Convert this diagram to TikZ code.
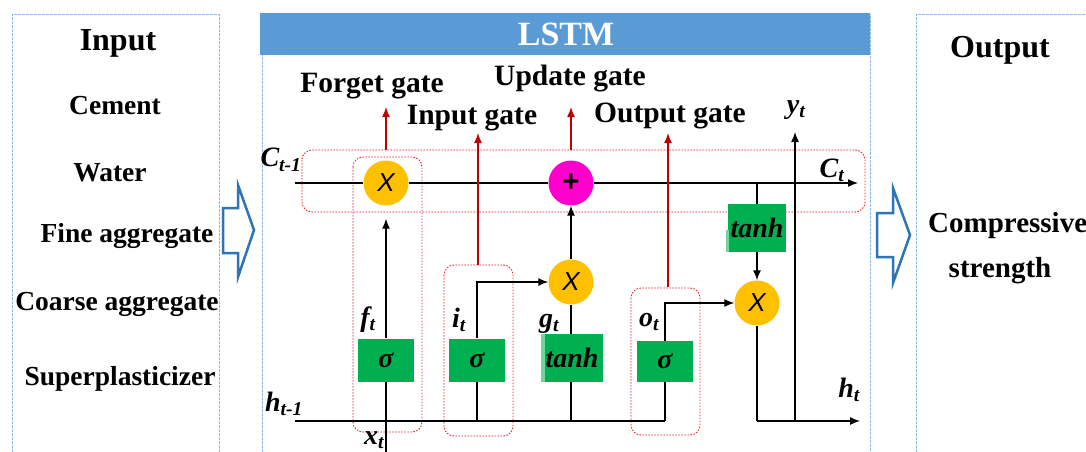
\documentclass[tikz,border=0pt]{standalone}
\usepackage{fontspec}
\setmainfont{Liberation Serif}
\newfontfamily\xsans{Liberation Sans}
\usetikzlibrary{arrows.meta}
\definecolor{hdrblue}{HTML}{5B9BD5}
\definecolor{brdblue}{HTML}{8DB8E6}
\definecolor{arrblue}{HTML}{2E75B6}
\definecolor{gatered}{HTML}{C00000}
\definecolor{dotred}{HTML}{E8202A}
\definecolor{boxgreen}{HTML}{00B050}
\definecolor{circorange}{HTML}{FFC000}
\definecolor{circpink}{HTML}{FF00CC}
\tikzset{
  blueframe/.style={draw=brdblue, line width=0.9pt, dash pattern=on 3pt off 1pt},
  bigtitle/.style={font=\fontsize{32}{34}\selectfont\bfseries},
  item/.style={font=\fontsize{27.5}{29}\selectfont\bfseries},
  gatelbl/.style={font=\fontsize{29.5}{31}\selectfont\bfseries},
  sym/.style={font=\fontsize{28}{30}\selectfont\bfseries\itshape, inner sep=0pt},
  gbox/.style={fill=boxgreen, minimum width=56pt, minimum height=43pt, inner sep=0pt, font=\fontsize{28}{30}\selectfont\bfseries\itshape},
  xcirc/.style={circle, fill=circorange, minimum size=45pt, inner sep=0pt, font=\fontsize{26}{28}\selectfont\xsans\itshape},
  pcirc/.style={circle, fill=circpink, minimum size=45pt, inner sep=0pt, font=\fontsize{30}{32}\selectfont\xsans\bfseries},
  redbox/.style={draw=dotred, line width=0.9pt, dash pattern=on 1.5pt off 1.5pt, rounded corners=10pt},
  wire/.style={line width=1.4pt, black},
  arr/.style={wire, -{Latex[length=10pt,width=8pt]}},
  redarr/.style={line width=1.4pt, gatered, -{Latex[length=10pt,width=8pt]}},
  blockarr/.style={draw=arrblue, line width=2.5pt, fill=white, line join=miter}
}
\begin{document}
\begin{tikzpicture}[x=1pt,y=-1pt]
\useasboundingbox (0,0) rectangle (1086,452);
\fill[white] (0,0) rectangle (1086,452);

% ---------- frames ----------
\draw[blueframe] (12,452) -- (12,14) -- (219,14) -- (219,452);
\draw[blueframe] (262,452) -- (262,14) -- (870,14) -- (870,452);
\draw[blueframe] (916,452) -- (916,14) -- (1090,14);
\fill[hdrblue] (260,13) rectangle (870,55);
\node[font=\fontsize{34}{36}\selectfont\bfseries, text=white] (lstm) at (566,34) {LSTM};

% ---------- input column ----------
\node[bigtitle] (intitle) at (118,43) {Input};
\node[item] (cement) at (115,106) {Cement};
\node[item] (water) at (110,173) {Water};
\node[item] (fine) at (127,236) {Fine aggregate};
\node[item] (coarse) at (117,304) {Coarse aggregate};
\node[item] (super) at (120,379) {Superplasticizer};

% ---------- output column ----------
\node[bigtitle] (outtitle) at (1000,50) {Output};
\node[item, font=\fontsize{29}{31}\selectfont\bfseries, anchor=west, inner sep=0pt] (comp) at (928,226) {Compressive};
\node[item, font=\fontsize{29}{31}\selectfont\bfseries] (strength) at (1000,271) {strength};

% ---------- block arrows ----------
\draw[blockarr] (223,208) -- (238,208) -- (238,185) -- (254,230) -- (238,277) -- (238,253) -- (223,253) -- cycle;
\draw[blockarr] (877,213) -- (893,213) -- (893,188) -- (910,235) -- (893,283) -- (893,257) -- (877,257) -- cycle;

% ---------- red dotted groups ----------
\draw[redbox] (302,150) rectangle (865,212);
\draw[redbox] (353,157) rectangle (422,432);
\draw[redbox] (444,265) rectangle (513,436);
\draw[redbox] (631,288) rectangle (700,435);

% ---------- coordinates ----------
\coordinate (cstart) at (295,183);
\coordinate (cend) at (858,183);
\coordinate (hstart) at (295,421);
\coordinate (hcorner) at (665,421);
\coordinate (xbot) at (386,452);
\coordinate (ihb) at (477,421);
\coordinate (ghb) at (571,421);
\coordinate (ctap) at (757,183);
\coordinate (hocorner) at (757,421);
\coordinate (hend) at (860,421);
\coordinate (ybase) at (795,421);
\coordinate (ytip) at (795,132);
\coordinate (rf1) at (386,150); \coordinate (rf2) at (386,107);
\coordinate (ri1) at (478,265); \coordinate (ri2) at (478,133);
\coordinate (ru1) at (571,150); \coordinate (ru2) at (571,107);
\coordinate (ro1) at (668,287); \coordinate (ro2) at (668,133);

% ---------- wires (below nodes) ----------
\draw[wire] (hstart) -- (hcorner);
\draw[wire] (xbot) -- (386,340);
\draw[wire] (ihb) -- (477,340);
\draw[wire] (ghb) -- (571,340);
\draw[wire] (hcorner) -- (665,340);
\draw[wire] (ctap) -- (757,204);

% ---------- operation nodes ----------
\node[xcirc] (fc) at (386,183) {X};
\node[pcirc] (pc) at (571,183) {+};
\node[xcirc] (mc) at (571,282) {X};
\node[xcirc] (oc) at (757,303) {X};

\node[gbox] (fs) at (386,360) {σ};
\node[gbox] (is) at (477,360) {σ};
\node[gbox, minimum width=61pt, minimum height=48pt] (gt) at (572,358) {tanh};
\fill[boxgreen!55] (541,334) rectangle (545,382);
\node[gbox, minimum height=41pt] (os) at (665,361) {σ};
\node[gbox, minimum width=58pt, minimum height=48pt] (tt) at (757,228) {tanh};
\fill[boxgreen!55] (726,230) rectangle (729,252);

% ---------- connectors ----------
\draw[wire] (cstart) -- (fc.west);
\draw[wire] (fc.east) -- (pc.west);
\draw[arr] (pc.east) -- (cend);
\draw[arr, shorten >=13pt] (fs.north) -- (fc.south);
\draw[arr] (is.north) |- (mc.west);
\draw[wire] (571,334) -- (mc.south);
\draw[arr] (mc.north) -- (pc.south);
\draw[arr] (os.north) |- (oc.west);
\draw[arr] (tt.south) -- (oc.north);
\draw[wire] (oc.south) -- (hocorner);
\draw[arr] (hocorner) -- (hend);
\draw[arr] (ybase) -- (ytip);

\draw[redarr] (rf1) -- (rf2);
\draw[redarr] (ri1) -- (ri2);
\draw[redarr] (ru1) -- (ru2);
\draw[redarr] (ro1) -- (ro2);

% ---------- labels ----------
\node[gatelbl] (lforget) at (372,86) {Forget gate};
\node[gatelbl] (linput) at (472,118) {Input gate};
\node[gatelbl] (lupdate) at (570,79) {Update gate};
\node[gatelbl] (loutput) at (670,116) {Output gate};

\node[sym] (cprev) at (281,160) {C\textsubscript{t-1}};
\node[sym] (ccur) at (832,170) {C\textsubscript{t}};
\node[sym] (hprev) at (284,404) {h\textsubscript{t-1}};
\node[sym] (hcur) at (849,390) {h\textsubscript{t}};
\node[sym] (yt) at (796,110) {y\textsubscript{t}};
\node[sym] (xt) at (374,440) {x\textsubscript{t}};
\node[sym] (ft) at (368,320) {f\textsubscript{t}};
\node[sym] (it) at (459,320) {i\textsubscript{t}};
\node[sym] (gtl) at (549,324) {g\textsubscript{t}};
\node[sym] (ot) at (649,322) {o\textsubscript{t}};
\end{tikzpicture}
\end{document}
